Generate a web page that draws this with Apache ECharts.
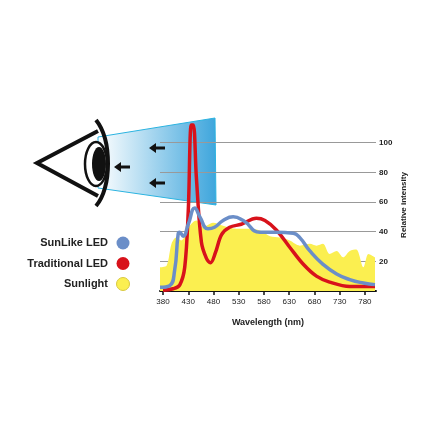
<!DOCTYPE html>
<html>
<head>
<meta charset="utf-8">
<script src="https://cdn.jsdelivr.net/npm/echarts@6/dist/echarts.min.js"></script>
<style>html,body{margin:0;padding:0;background:#fff}#chart{width:440px;height:440px}</style>
</head>
<body>
<div id="chart"></div>
<script>
// wavelength (nm), relative intensity
const sunlike = [[374,2.5],[393,3.6],[403,14],[410,38.5],[413,39.6],[420,37],[430,45],[443,56],[453,50],[469,42],[482,43],[499,47.5],[519,50],[539,47.5],[572,39.6],[605,39.6],[638,39],[651,36],[671,27],[697,18],[724,11.5],[750,7.7],[777,5.4],[800,4.3]];
const traditional = [[380,0.5],[400,1.5],[413,4],[423,16],[430,54],[436,112],[440,112],[446,77],[456,33],[466,22],[474,19],[484,26],[496,38],[512,43],[535,45],[565,49],[582,47.5],[605,41],[631,29.5],[658,18],[684,10],[710,6],[750,3],[800,3]];
const sunlight = [[374,16],[387,17],[397,32],[406,36],[416,34],[433,44],[446,47.5],[459,43],[479,46],[499,44],[526,42],[552,42],[572,40.8],[592,37],[612,36],[631,34],[651,30.6],[671,31.8],[684,30.6],[697,31.8],[710,25],[724,27],[737,22.7],[750,27],[763,28],[777,16],[787,25],[800,22.7]];
const xTicks = [380,430,480,530,580,630,680,730,780];
const legendNames = ['SunLike LED', 'Traditional LED', 'Sunlight'];
const colors = ['#6b8ec8', '#d8121b', '#fbef50'];

const chart = echarts.init(document.getElementById('chart'));
const font = 'Liberation Sans';

const graphics = [
    // light wedge
    {type:'polygon', z:-10, shape:{points:[[98,137],[215,118],[216,205],[98,188]]},
     style:{fill:new echarts.graphic.LinearGradient(0,0,1,0,[{offset:0,color:'#ffffff'},{offset:1,color:'#3da5dc'}]), stroke:'#2bb3e0', lineWidth:1}},
    // eye outline
    {type:'polyline', shape:{points:[[98,131],[37,163],[98,196]]}, style:{stroke:'#111', lineWidth:4, fill:null}},
    {type:'bezierCurve', shape:{x1:96,y1:120,cpx1:112,cpy1:140,cpx2:112,cpy2:188,x2:96,y2:206}, style:{stroke:'#111', lineWidth:4, fill:null}},
    {type:'ellipse', shape:{cx:96,cy:164,rx:11,ry:22}, style:{stroke:'#111', lineWidth:2.5, fill:'#fff'}},
    {type:'ellipse', shape:{cx:99,cy:164,rx:7,ry:17}, style:{fill:'#111'}}
];
// arrows
[[157,148],[122,167],[157,183]].forEach(([x, y]) => {
    graphics.push({type:'polygon', shape:{points:[[x-8,y],[x-1,y-5],[x-1,y-1.5],[x+8,y-1.5],[x+8,y+1.5],[x-1,y+1.5],[x-1,y+5]]}, style:{fill:'#111'}});
});
// legend
legendNames.forEach((name, i) => {
    const y = 243 + i * 20.5;
    graphics.push({type:'text', x:108, y:y, style:{text:name, font:'bold 11px "' + font + '"', fill:'#222', align:'right', verticalAlign:'middle'}});
    graphics.push({type:'circle', shape:{cx:123, cy:y, r:6.5}, style:{fill:colors[i], stroke: i === 2 ? '#d8c840' : null, lineWidth:1}});
});

chart.setOption({
    animation: false,
    grid: {left: 160, right: 64, top: 119, bottom: 149},
    xAxis: {
        type: 'value', min: 374, max: 802,
        name: 'Wavelength (nm)', nameLocation: 'middle', nameGap: 27,
        nameTextStyle: {fontFamily: font, fontWeight: 'bold', fontSize: 9, color: '#222'},
        axisLine: {lineStyle: {color: '#111', width: 2}},
        axisTick: {customValues: xTicks, length: 4, lineStyle: {color: '#111', width: 1.5}},
        axisLabel: {customValues: xTicks, fontFamily: font, fontSize: 8, color: '#222', margin: 7},
        splitLine: {show: false}
    },
    yAxis: {
        type: 'value', min: 0, max: 116, interval: 20, position: 'right',
        name: 'Relative intensity', nameLocation: 'middle', nameGap: 24, nameRotate: 90,
        nameTextStyle: {fontFamily: font, fontWeight: 'bold', fontSize: 8, color: '#222'},
        axisLine: {show: false}, axisTick: {show: false},
        axisLabel: {fontFamily: font, fontSize: 8, fontWeight: 'bold', color: '#222', margin: 3,
                    showMaxLabel: false, formatter: v => (v === 0 || v > 100) ? '' : v},
        splitLine: {showMaxLine: false, lineStyle: {color: '#999', width: 1.2}}
    },
    series: [
        {name: 'Sunlight', type: 'line', data: sunlight, smooth: 0.3, symbol: 'none', z: 1,
         lineStyle: {width: 0}, areaStyle: {color: colors[2], opacity: 1}},
        {name: 'Traditional LED', type: 'line', data: traditional, smooth: 0.35, symbol: 'none', z: 3,
         lineStyle: {color: colors[1], width: 3.5}},
        {name: 'SunLike LED', type: 'line', data: sunlike, smooth: 0.5, symbol: 'none', z: 4,
         lineStyle: {color: colors[0], width: 3.5}}
    ],
    graphic: graphics
});
</script>
</body>
</html>
